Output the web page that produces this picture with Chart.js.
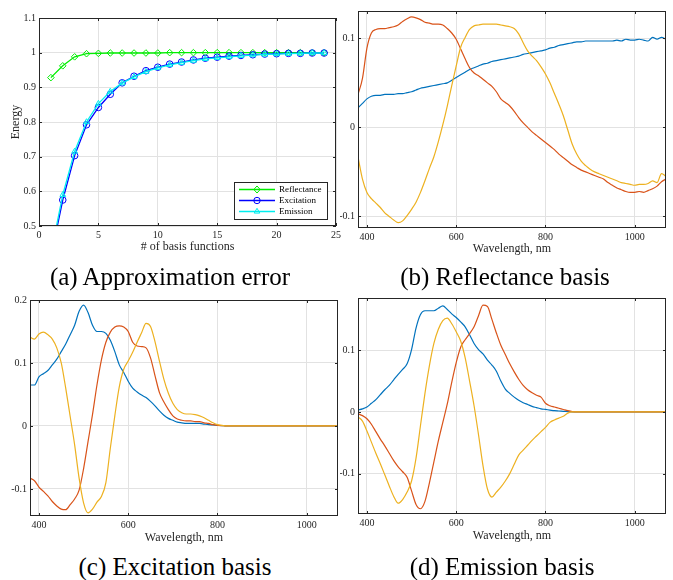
<!DOCTYPE html>
<html>
<head>
<meta charset="utf-8">
<script src="https://cdn.jsdelivr.net/npm/chart.js@4.4.0/dist/chart.umd.min.js"></script>
<style>
body { margin: 0; background: #fff; width: 673px; height: 580px; position: relative; overflow: hidden; }
canvas { position: absolute; }
.cap { position: absolute; font-family: "Liberation Serif", serif; font-size: 25px; line-height: 25px; color: #000; white-space: nowrap; transform: translateX(-50%); }
</style>
</head>
<body>
<canvas id="chartA" style="left:0px;top:8px" width="348" height="246"></canvas>
<canvas id="chartB" style="left:340px;top:1px" width="338" height="255"></canvas>
<canvas id="chartC" style="left:0px;top:290px" width="350" height="255"></canvas>
<canvas id="chartD" style="left:340px;top:288px" width="338" height="255"></canvas>
<div class="cap" style="left:170px;top:264px">(a) Approximation error</div>
<div class="cap" style="left:505px;top:264px">(b) Reflectance basis</div>
<div class="cap" style="left:175px;top:554px">(c) Excitation basis</div>
<div class="cap" style="left:502px;top:554px">(d) Emission basis</div>
<script>
// (a) energy captured vs number of basis functions
const basisCount = [1, 2, 3, 4, 5, 6, 7, 8, 9, 10, 11, 12, 13, 14, 15, 16, 17, 18, 19, 20, 21, 22, 23, 24];
const reflEnergy = [0.928, 0.962, 0.988, 0.997, 0.998, 0.999, 0.999, 0.999, 0.999, 0.999, 1, 1, 1, 1, 1, 1, 1, 1, 1, 1, 1, 1, 1, 1];
const exciEnergy = [0.41, 0.575, 0.703, 0.792, 0.842, 0.880, 0.913, 0.932, 0.948, 0.958, 0.967, 0.973, 0.979, 0.984, 0.987, 0.990, 0.992, 0.994, 0.996, 0.997, 0.998, 0.998, 0.999, 0.999];
const emisEnergy = [0.42, 0.590, 0.715, 0.800, 0.853, 0.888, 0.912, 0.930, 0.945, 0.956, 0.965, 0.971, 0.977, 0.982, 0.985, 0.988, 0.991, 0.993, 0.995, 0.996, 0.997, 0.998, 0.999, 0.999];
const energyLabels = ['Reflectance', 'Excitation', 'Emission'];

// wavelengths, nm
const waveNm = [
	380, 390, 400, 410, 420, 430, 440, 450, 460, 470,
	480, 490, 500, 510, 520, 530, 540, 550, 560, 570,
	580, 590, 600, 610, 620, 630, 640, 650, 660, 670,
	680, 690, 700, 710, 720, 730, 740, 750, 760, 770,
	780, 790, 800, 810, 820, 830, 840, 850, 860, 870,
	880, 890, 900, 910, 920, 930, 940, 950, 960, 970,
	980, 990, 1000, 1010, 1020, 1030, 1040, 1050, 1060, 1070
];

// (b) reflectance basis
const reflBasis1 = [
	0.022, 0.027, 0.032, 0.035, 0.036, 0.036, 0.037, 0.037, 0.037, 0.038,
	0.038, 0.039, 0.040, 0.042, 0.044, 0.045, 0.046, 0.047, 0.048, 0.049,
	0.050, 0.053, 0.056, 0.059, 0.062, 0.065, 0.067, 0.069, 0.071, 0.072,
	0.074, 0.075, 0.076, 0.077, 0.078, 0.079, 0.080, 0.082, 0.083, 0.084,
	0.085, 0.086, 0.087, 0.089, 0.090, 0.092, 0.093, 0.094, 0.095, 0.096,
	0.096, 0.097, 0.097, 0.097, 0.097, 0.097, 0.097, 0.097, 0.098, 0.097,
	0.099, 0.098, 0.098, 0.099, 0.098, 0.097, 0.101, 0.099, 0.101, 0.099
];
const reflBasis2 = [
	0.037, 0.055, 0.089, 0.106, 0.110, 0.111, 0.111, 0.112, 0.113, 0.115,
	0.119, 0.122, 0.124, 0.123, 0.121, 0.118, 0.117, 0.116, 0.116, 0.115,
	0.111, 0.106, 0.099, 0.088, 0.077, 0.067, 0.061, 0.058, 0.054, 0.050,
	0.046, 0.040, 0.032, 0.028, 0.024, 0.018, 0.011, 0.005, 0.000, -0.005,
	-0.009, -0.013, -0.017, -0.021, -0.025, -0.030, -0.034, -0.038, -0.042, -0.045,
	-0.048, -0.050, -0.052, -0.054, -0.056, -0.058, -0.062, -0.065, -0.068, -0.070,
	-0.072, -0.073, -0.073, -0.072, -0.073, -0.071, -0.069, -0.066, -0.061, -0.058
];
const reflBasis3 = [
	-0.033, -0.058, -0.073, -0.080, -0.085, -0.090, -0.096, -0.100, -0.104, -0.107,
	-0.105, -0.099, -0.092, -0.084, -0.073, -0.060, -0.046, -0.033, -0.016, 0.003,
	0.024, 0.047, 0.069, 0.090, 0.101, 0.110, 0.114, 0.115, 0.116, 0.116,
	0.116, 0.116, 0.115, 0.114, 0.113, 0.111, 0.105, 0.095, 0.086, 0.080,
	0.075, 0.068, 0.060, 0.050, 0.038, 0.026, 0.013, -0.003, -0.019, -0.030,
	-0.038, -0.043, -0.047, -0.050, -0.052, -0.054, -0.056, -0.058, -0.060, -0.062,
	-0.063, -0.064, -0.065, -0.064, -0.064, -0.063, -0.060, -0.062, -0.052, -0.055
];

// (c) excitation basis
const exciBasis1 = [
	0.065, 0.065, 0.078, 0.083, 0.088, 0.097, 0.106, 0.118, 0.130, 0.145,
	0.160, 0.182, 0.192, 0.180, 0.160, 0.150, 0.150, 0.147, 0.136, 0.118,
	0.097, 0.085, 0.071, 0.060, 0.054, 0.049, 0.045, 0.039, 0.032, 0.024,
	0.017, 0.012, 0.009, 0.006, 0.005, 0.004, 0.004, 0.004, 0.004, 0.003,
	0.002, 0.0015, 0.001, 0.0005, 0, 0, 0, 0, 0, 0,
	0, 0, 0, 0, 0, 0, 0, 0, 0, 0,
	0, 0, 0, 0, 0, 0, 0, 0, 0, 0
];
const exciBasis2 = [
	-0.083, -0.087, -0.097, -0.104, -0.111, -0.120, -0.127, -0.132, -0.133, -0.125,
	-0.116, -0.102, -0.068, -0.025, 0.018, 0.065, 0.105, 0.133, 0.149, 0.157,
	0.159, 0.157, 0.150, 0.133, 0.127, 0.126, 0.124, 0.108, 0.080, 0.053,
	0.038, 0.026, 0.016, 0.011, 0.009, 0.008, 0.008, 0.007, 0.007, 0.005,
	0.004, 0.002, 0.001, 0.0005, 0, 0, 0, 0, 0, 0,
	0, 0, 0, 0, 0, 0, 0, 0, 0, 0,
	0, 0, 0, 0, 0, 0, 0, 0, 0, 0
];
const exciBasis3 = [
	0.141, 0.138, 0.146, 0.149, 0.145, 0.138, 0.124, 0.100, 0.060, 0.015,
	-0.030, -0.083, -0.122, -0.138, -0.132, -0.121, -0.112, -0.090, -0.035, 0.016,
	0.062, 0.090, 0.103, 0.117, 0.133, 0.148, 0.163, 0.158, 0.134, 0.103,
	0.074, 0.052, 0.036, 0.026, 0.021, 0.019, 0.019, 0.018, 0.016, 0.013,
	0.009, 0.005, 0.002, 0.001, 0, 0, 0, 0, 0, 0,
	0, 0, 0, 0, 0, 0, 0, 0, 0, 0,
	0, 0, 0, 0, 0, 0, 0, 0, 0, 0
];

// (d) emission basis
const emisBasis1 = [
	0.003, 0.005, 0.008, 0.014, 0.020, 0.028, 0.036, 0.043, 0.052, 0.061,
	0.069, 0.078, 0.101, 0.136, 0.158, 0.164, 0.164, 0.164, 0.168, 0.172,
	0.166, 0.159, 0.153, 0.146, 0.138, 0.125, 0.111, 0.101, 0.094, 0.084,
	0.076, 0.066, 0.050, 0.037, 0.030, 0.024, 0.019, 0.015, 0.012, 0.009,
	0.007, 0.005, 0.004, 0.003, 0.002, 0.0015, 0.001, 0.0005, 0, 0,
	0, 0, 0, 0, 0, 0, 0, 0, 0, 0,
	0, 0, 0, 0, 0, 0, 0, 0, 0, 0
];
const emisBasis2 = [
	-0.003, -0.006, -0.011, -0.020, -0.032, -0.044, -0.055, -0.067, -0.079, -0.089,
	-0.097, -0.106, -0.128, -0.150, -0.157, -0.145, -0.115, -0.081, -0.047, -0.017,
	0.013, 0.048, 0.080, 0.105, 0.117, 0.127, 0.138, 0.156, 0.173, 0.171,
	0.150, 0.128, 0.108, 0.093, 0.078, 0.065, 0.053, 0.043, 0.036, 0.031,
	0.027, 0.024, 0.014, 0.010, 0.008, 0.006, 0.004, 0.002, 0.0005, 0,
	0, 0, 0, 0, 0, 0, 0, 0, 0, 0,
	0, 0, 0, 0, 0, 0, 0, 0, 0, 0
];
const emisBasis3 = [
	-0.008, -0.015, -0.031, -0.049, -0.067, -0.084, -0.102, -0.120, -0.137, -0.148,
	-0.142, -0.130, -0.112, -0.075, -0.022, 0.030, 0.075, 0.111, 0.134, 0.148,
	0.152, 0.143, 0.130, 0.115, 0.088, 0.050, 0.010, -0.037, -0.087, -0.125,
	-0.138, -0.130, -0.122, -0.112, -0.100, -0.085, -0.070, -0.062, -0.054, -0.046,
	-0.039, -0.032, -0.025, -0.017, -0.013, -0.010, -0.007, -0.002, 0, 0,
	0, 0, 0, 0, 0, 0, 0, 0, 0, 0,
	0, 0, 0, 0, 0, 0, 0, 0, 0, 0
];

const ink = '#262626';
const gridCol = '#e2e2e2';
const serif = '"Liberation Serif", "Times New Roman", serif';
const tickFont = { family: serif, size: 10 };
const titleFont = { family: serif, size: 12 };
const basisColors = ['#0072BD', '#D95319', '#EDB120'];

function fmt(v) {
	return String(Math.round(v * 1000) / 1000);
}

function pairs(xs, ys) {
	return xs.map((x, i) => ({ x: x, y: ys[i] }));
}

// matlab-like box with inward ticks on all four sides
const boxPlugin = {
	id: 'box',
	afterDatasetsDraw(chart) {
		const { ctx, chartArea: a, scales } = chart;
		ctx.save();
		ctx.strokeStyle = ink;
		ctx.lineWidth = 1;
		ctx.beginPath();
		scales.x.ticks.forEach(t => {
			const px = Math.round(scales.x.getPixelForValue(t.value)) + 0.5;
			ctx.moveTo(px, a.bottom); ctx.lineTo(px, a.bottom - 3);
			ctx.moveTo(px, a.top); ctx.lineTo(px, a.top + 3);
		});
		scales.y.ticks.forEach(t => {
			const py = Math.round(scales.y.getPixelForValue(t.value)) + 0.5;
			ctx.moveTo(a.left, py); ctx.lineTo(a.left + 3, py);
			ctx.moveTo(a.right, py); ctx.lineTo(a.right - 3, py);
		});
		ctx.stroke();
		ctx.strokeRect(a.left + 0.5, a.top + 0.5, a.right - a.left - 1, a.bottom - a.top - 1);
		ctx.restore();
	}
};

function drawMarker(ctx, style, r, x, y) {
	ctx.beginPath();
	if (style === 'rectRot') {
		ctx.moveTo(x, y - r * 1.1); ctx.lineTo(x + r, y); ctx.lineTo(x, y + r * 1.1); ctx.lineTo(x - r, y);
		ctx.closePath();
	} else if (style === 'triangle') {
		ctx.moveTo(x, y - r); ctx.lineTo(x + r * 0.87, y + r * 0.5); ctx.lineTo(x - r * 0.87, y + r * 0.5);
		ctx.closePath();
	} else {
		ctx.arc(x, y, r, 0, Math.PI * 2);
	}
	ctx.stroke();
}

// legend box inside the plot, lower right
const energyLegend = {
	id: 'energyLegend',
	afterDraw(chart) {
		const { ctx, chartArea: a } = chart;
		const left = a.right - 102, top = a.bottom - 44, w = 93, h = 37;
		ctx.save();
		ctx.fillStyle = '#fff';
		ctx.fillRect(left, top, w, h);
		ctx.strokeStyle = ink;
		ctx.lineWidth = 1;
		ctx.strokeRect(left + 0.5, top + 0.5, w, h);
		ctx.font = '9px ' + serif;
		ctx.textBaseline = 'middle';
		chart.data.datasets.forEach((ds, i) => {
			const y = top + 7.5 + i * 11;
			ctx.strokeStyle = ds.borderColor;
			ctx.lineWidth = 1.3;
			ctx.beginPath();
			ctx.moveTo(left + 5, y); ctx.lineTo(left + 41, y);
			ctx.stroke();
			ctx.lineWidth = 1;
			drawMarker(ctx, ds.pointStyle, 3.2, left + 23, y);
			ctx.fillStyle = '#000';
			ctx.fillText(ds.label, left + 45, y + 0.5);
		});
		ctx.restore();
	}
};

function xAxis(min, max, step, title, h) {
	return {
		type: 'linear',
		min: min,
		max: max,
		ticks: { stepSize: step, autoSkip: false, includeBounds: false, maxRotation: 0, padding: 3, color: ink, font: tickFont, callback: v => fmt(v) },
		grid: { color: gridCol, drawTicks: false },
		border: { display: false },
		title: { display: true, text: title, color: ink, font: titleFont, padding: { top: 0, bottom: 0 } },
		afterFit: s => { s.height = h; }
	};
}

function yAxis(min, max, step, w, title) {
	const ax = {
		min: min,
		max: max,
		ticks: { stepSize: step, autoSkip: false, includeBounds: false, padding: 3, color: ink, font: tickFont, callback: v => fmt(v) },
		grid: { color: gridCol, drawTicks: false },
		border: { display: false },
		afterFit: s => { s.width = w; }
	};
	if (title) {
		ax.title = { display: true, text: title, color: ink, font: titleFont, padding: { top: 9, bottom: 0 } };
	}
	return ax;
}

function baseOptions(scales) {
	return {
		responsive: false,
		animation: false,
		devicePixelRatio: 1,
		layout: { padding: { left: 0, top: 10, right: 12, bottom: 0 } },
		plugins: { legend: { display: false }, tooltip: { enabled: false } },
		scales: scales
	};
}

// (a)
const energyColors = ['#00ee00', '#0000ff', '#00eeee'];
const energyStyles = ['rectRot', 'circle', 'triangle'];
new Chart(document.getElementById('chartA'), {
	type: 'line',
	data: {
		datasets: [reflEnergy, exciEnergy, emisEnergy].map((vals, i) => ({
			label: energyLabels[i],
			data: pairs(basisCount, vals),
			borderColor: energyColors[i],
			borderWidth: 1.3,
			pointStyle: energyStyles[i],
			pointRadius: 3.3,
			pointBorderWidth: 1,
			pointBorderColor: energyColors[i],
			pointBackgroundColor: 'rgba(0,0,0,0)',
			order: 3 - i
		}))
	},
	options: baseOptions({
		x: xAxis(0, 25, 5, '# of basis functions', 28),
		y: yAxis(0.5, 1.1, 0.1, 39, 'Energy')
	}),
	plugins: [boxPlugin, energyLegend]
});

function basisChart(id, series, yMin, yMax, yW, xH) {
	new Chart(document.getElementById(id), {
		type: 'line',
		data: {
			datasets: series.map((vals, i) => ({
				label: 'basis ' + (i + 1),
				data: pairs(waveNm, vals),
				borderColor: basisColors[i],
				borderWidth: 1.2,
				pointRadius: 0,
				cubicInterpolationMode: 'monotone',
				order: 3 - i
			}))
		},
		options: baseOptions({
			x: xAxis(380, 1070, 200, 'Wavelength, nm', xH),
			y: yAxis(yMin, yMax, 0.1, yW)
		}),
		plugins: [boxPlugin]
	});
}

basisChart('chartB', [reflBasis1, reflBasis2, reflBasis3], -0.113, 0.1307, 18, 28);
basisChart('chartC', [exciBasis1, exciBasis2, exciBasis3], -0.143, 0.2, 30, 29);
basisChart('chartD', [emisBasis1, emisBasis2, emisBasis3], -0.1655, 0.1847, 18, 29);
</script>
</body>
</html>
